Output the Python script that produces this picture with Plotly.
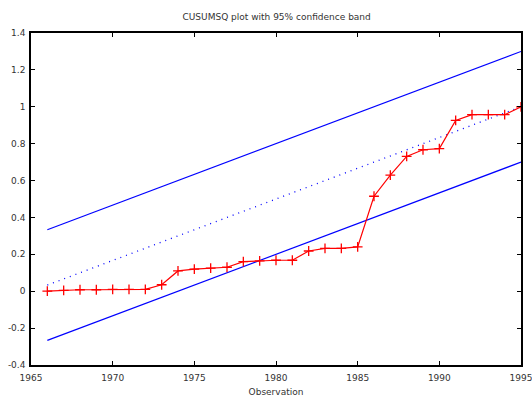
import plotly.graph_objects as go

years = list(range(1966, 1996))
cusumsq = [0.0, 0.005, 0.008, 0.008, 0.01, 0.01, 0.01, 0.035, 0.11, 0.12,
           0.125, 0.13, 0.16, 0.165, 0.168, 0.168, 0.218, 0.232, 0.232, 0.24,
           0.515, 0.629, 0.731, 0.767, 0.773, 0.926, 0.957, 0.957, 0.957, 1.0]
band_years = [1966, 1995]
center = [0.0333, 1.0]
upper = [0.3333, 1.3]
lower = [-0.2667, 0.7]

x_ticks = [1965, 1970, 1975, 1980, 1985, 1990, 1995]
y_ticks = [-0.4, -0.2, 0, 0.2, 0.4, 0.6, 0.8, 1, 1.2, 1.4]
y_ticktext = ["-0.4", "-0.2", "0", "0.2", "0.4", "0.6", "0.8", "1", "1.2", "1.4"]

fig = go.Figure()
fig.add_trace(go.Scatter(x=band_years, y=upper, mode="lines",
                         line=dict(color="blue", width=1.2), showlegend=False))
fig.add_trace(go.Scatter(x=band_years, y=lower, mode="lines",
                         line=dict(color="blue", width=1.2), showlegend=False))
fig.add_trace(go.Scatter(x=band_years, y=center, mode="lines",
                         line=dict(color="blue", width=1.3, dash="1px,5px"), showlegend=False))
fig.add_trace(go.Scatter(x=years, y=cusumsq, mode="lines+markers",
                         line=dict(color="red", width=1.2),
                         marker=dict(symbol="cross-thin", size=7,
                                     line=dict(color="red", width=1.3)),
                         showlegend=False))

axis_common = dict(showline=True, linecolor="black", linewidth=1.5, mirror="ticks",
                   ticks="inside", ticklen=4, tickcolor="black", tickwidth=1,
                   showgrid=False, zeroline=False, automargin=False,
                   ticklabeloverflow="allow",
                   tickfont=dict(family="DejaVu Sans", size=9, color="#333333"))

fig.update_layout(
    width=532, height=397,
    margin=dict(l=31, r=11, t=33, b=32),
    paper_bgcolor="white", plot_bgcolor="white",
    title=dict(text="CUSUMSQ plot with 95% confidence band", x=0.52, xanchor="center",
               y=0.958, yanchor="middle",
               font=dict(family="DejaVu Sans", size=9, color="#333333")),
    xaxis=dict(range=[1965, 1995], tickvals=x_ticks, ticklabelstandoff=3,
               title=dict(text="Observation", standoff=8,
                          font=dict(family="DejaVu Sans", size=9, color="#333333")),
               **axis_common),
    yaxis=dict(range=[-0.4, 1.4], tickvals=y_ticks, ticktext=y_ticktext,
               ticklabelstandoff=2, **axis_common),
)

fig.write_html("out.html")
